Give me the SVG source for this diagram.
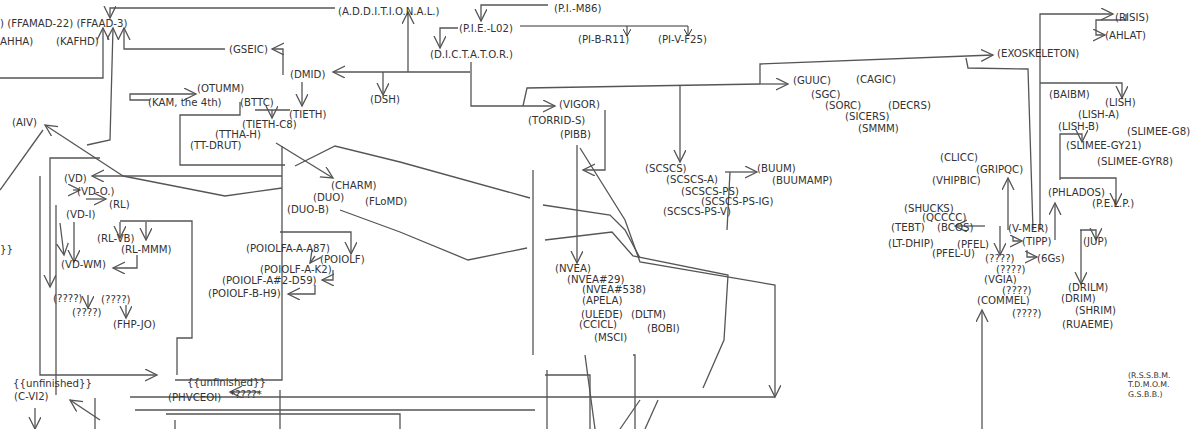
<svg xmlns="http://www.w3.org/2000/svg" width="1200" height="429" viewBox="0 0 1200 429">
<style>
text{font-family:"DejaVu Sans","Liberation Sans",sans-serif;font-size:10.2px;fill:#333}
.s{font-size:7.8px}
.c{fill:none;stroke:#555;stroke-width:1.3}
.a{fill:none;stroke:#555;stroke-width:1.3;marker-end:url(#m)}
.t{fill:none;stroke:#333;stroke-width:1;marker-end:url(#n)}
</style>
<defs>
<marker id="m" markerUnits="userSpaceOnUse" markerWidth="14" markerHeight="14" refX="12" refY="6" orient="auto"><path d="M0,0 L12,6 L0,12" fill="none" stroke="#555" stroke-width="1.3"/></marker>
<marker id="n" markerUnits="userSpaceOnUse" markerWidth="8" markerHeight="8" refX="7" refY="4" orient="auto"><path d="M0,0 L7,4 L0,8" fill="none" stroke="#333" stroke-width="1"/></marker>
</defs>
<rect width="1200" height="429" fill="#fff"/>
<g id="connectors">
<path class="a" d="M335,8 H110 V18"/>
<path class="a" d="M408,72 V12"/>
<path class="a" d="M470,72 H333"/>
<path class="a" d="M383,72 V95"/>
<path class="a" d="M283,75 V49 H272"/>
<path class="a" d="M225,49 H124 V28"/>
<path class="a" d="M302,82 V106"/>
<path class="a" d="M0,78 H103 V28"/>
<path class="a" d="M87,145 L110,140 L113,28"/>
<path class="a" d="M548,5 H481 V21"/>
<path class="a" d="M458,28 H440 V48"/>
<path class="t" d="M520,26 H627 V36"/>
<path class="t" d="M627,26 H688 V36"/>
<path class="a" d="M471,62 V106 H555"/>
<path class="c" d="M523,106 L527,88 L760,84"/>
<path class="a" d="M760,84 H788"/>
<path class="a" d="M760,84 V64 L993,55"/>
<path class="a" d="M680,86 V162"/>
<path class="c" d="M966,58 L968,68 L1028,69 L1033,230"/>
<path class="a" d="M1040,230 V14 H1113"/>
<path class="a" d="M1040,83 H1122 V98"/>
<path class="a" d="M1126,14 V20 H1096 V35 H1105"/>
<path class="a" d="M1008,230 V178"/>
<path class="a" d="M1060,180 V134 H1082 V142"/>
<path class="a" d="M1060,178 H1116 V205"/>
<path class="a" d="M1055,240 V203"/>
<path class="a" d="M1080,230 H1096 V240"/>
<path class="a" d="M1081,230 V284"/>
<path class="a" d="M982,429 V310"/>
<path class="a" d="M985,226 H955"/>
<path class="a" d="M1000,226 V255"/>
<path class="a" d="M1013,236 V241 H1022"/>
<path class="a" d="M1027,250 V257 H1037"/>
<path class="a" d="M605,110 V170 H583"/>
<path class="a" d="M577,145 V263"/>
<path class="c" d="M533,170 V355"/>
<path class="a" d="M725,172 H757"/>
<path class="c" d="M730,172 L727,230"/>
<path class="a" d="M150,100 H130 V94 H196"/>
<path class="c" d="M240,102 V115 H180 V165 H285"/>
<path class="c" d="M255,110 H290"/>
<path class="a" d="M272,110 V118"/>
<path class="a" d="M276,143 L333,178"/>
<path class="c" d="M282,146 V380 H175"/>
<path class="c" d="M295,166 L335,146 L400,162 L530,198"/>
<path class="c" d="M543,205 L610,215 L625,230 L640,258"/>
<path class="c" d="M340,210 L400,232 L468,260 L527,248"/>
<path class="c" d="M545,240 L612,232 L633,256 L728,275 L724,340 L703,388"/>
<path class="c" d="M0,190 L43,130"/>
<path class="a" d="M123,176 L45,125"/>
<path class="c" d="M123,176 L225,196 L282,188"/>
<path class="a" d="M282,176 H92"/>
<path class="a" d="M40,176 V375 H157"/>
<path class="c" d="M50,176 V158 H100"/>
<path class="a" d="M50,176 V287"/>
<path class="a" d="M73,190 H80"/>
<path class="a" d="M86,199 H106"/>
<path class="c" d="M56,205 V395"/>
<path class="a" d="M60,223 L64,255"/>
<path class="a" d="M74,222 V262"/>
<path class="a" d="M120,222 V238"/>
<path class="a" d="M146,222 V240"/>
<path class="c" d="M120,221 H192 V338 H177 V375"/>
<path class="a" d="M137,255 V268 H113"/>
<path class="a" d="M88,295 V308"/>
<path class="a" d="M126,305 V318"/>
<path class="a" d="M280,232 H351 V254"/>
<path class="a" d="M315,256 L310,263"/>
<path class="a" d="M333,270 V280 H322"/>
<path class="a" d="M315,285 V294 H288"/>
<path class="a" d="M580,148 L625,220 L640,262 L775,285 V397"/>
<path class="c" d="M130,397 H775"/>
<path class="c" d="M280,390 V429"/>
<path class="c" d="M95,398 V429"/>
<path class="c" d="M135,410 H535"/>
<path class="c" d="M166,414 H400 V429"/>
<path class="c" d="M175,420 V429"/>
<path class="c" d="M545,375 H590 V429"/>
<path class="c" d="M547,370 V429"/>
<path class="c" d="M633,355 H635 V429"/>
<path class="c" d="M640,400 L620,429"/>
<path class="c" d="M658,400 L645,429"/>
<path class="c" d="M585,355 L595,429"/>
<path class="a" d="M35,408 V429"/>
<path class="a" d="M260,392 H230"/>
<path class="a" d="M100,420 L70,400"/>
</g>
<g id="nodes">
<text x="0" y="27">) (FFAMAD-22) (FFAAD-3)</text>
<text x="0" y="45">AHHA)</text>
<text x="56" y="45">(KAFHD)</text>
<text x="338" y="15">(A.D.D.I.T.I.O.N.A.L.)</text>
<text x="554" y="12">(P.I.-M86)</text>
<text x="459" y="32">(P.I.E.-L02)</text>
<text x="578" y="43">(PI-B-R11)</text>
<text x="658" y="43">(PI-V-F25)</text>
<text x="430" y="58">(D.I.C.T.A.T.O.R.)</text>
<text x="229" y="53">(GSEIC)</text>
<text x="290" y="78">(DMID)</text>
<text x="370" y="103">(DSH)</text>
<text x="197" y="92">(OTUMM)</text>
<text x="148" y="106">(KAM, the 4th)</text>
<text x="240" y="106">(BTTC)</text>
<text x="289" y="118">(TIETH)</text>
<text x="242" y="128">(TIETH-C8)</text>
<text x="215" y="138">(TTHA-H)</text>
<text x="190" y="149">(TT-DRUT)</text>
<text x="12" y="126">(AIV)</text>
<text x="64" y="182">(VD)</text>
<text x="77" y="195">(VD-O.)</text>
<text x="109" y="208">(RL)</text>
<text x="66" y="218">(VD-I)</text>
<text x="97" y="242">(RL-VB)</text>
<text x="121" y="253">(RL-MMM)</text>
<text x="61" y="268">(VD-WM)</text>
<text x="0" y="253">}}</text>
<text x="53" y="302">(????)</text>
<text x="101" y="303">(????)</text>
<text x="72" y="316">(????)</text>
<text x="113" y="328">(FHP-JO)</text>
<text x="13" y="387">{{unfinished}}</text>
<text x="14" y="400">(C-VI2)</text>
<text x="168" y="401">(PHVCEOI)</text>
<text x="187" y="386">{{unfinished}}</text>
<text x="230" y="398">*????*</text>
<text x="331" y="189">(CHARM)</text>
<text x="313" y="201">(DUO)</text>
<text x="365" y="205">(FLoMD)</text>
<text x="287" y="213">(DUO-B)</text>
<text x="246" y="252">(POIOLFA-A-A87)</text>
<text x="320" y="263">(POIOLF)</text>
<text x="260" y="273">(POIOLF-A-K2)</text>
<text x="222" y="284">(POIOLF-A#2-D59)</text>
<text x="208" y="297">(POIOLF-B-H9)</text>
<text x="559" y="108">(VIGOR)</text>
<text x="528" y="124">(TORRID-S)</text>
<text x="560" y="138">(PIBB)</text>
<text x="645" y="172">(SCSCS)</text>
<text x="666" y="183">(SCSCS-A)</text>
<text x="681" y="195">(SCSCS-PS)</text>
<text x="701" y="205">(SCSCS-PS-IG)</text>
<text x="663" y="215">(SCSCS-PS-V)</text>
<text x="757" y="172">(BUUM)</text>
<text x="772" y="184">(BUUMAMP)</text>
<text x="555" y="272">(NVEA)</text>
<text x="567" y="283">(NVEA#29)</text>
<text x="582" y="293">(NVEA#538)</text>
<text x="582" y="304">(APELA)</text>
<text x="581" y="318">(ULEDE)</text>
<text x="631" y="318">(DLTM)</text>
<text x="579" y="328">(CCICL)</text>
<text x="647" y="332">(BOBI)</text>
<text x="594" y="341">(MSCI)</text>
<text x="793" y="84">(GUUC)</text>
<text x="856" y="83">(CAGIC)</text>
<text x="811" y="98">(SGC)</text>
<text x="825" y="109">(SORC)</text>
<text x="888" y="109">(DECRS)</text>
<text x="845" y="120">(SICERS)</text>
<text x="858" y="132">(SMMM)</text>
<text x="997" y="57">(EXOSKELETON)</text>
<text x="1115" y="21">(RISIS)</text>
<text x="1105" y="39">(AHLAT)</text>
<text x="1049" y="98">(BAIBM)</text>
<text x="1105" y="106">(LISH)</text>
<text x="1078" y="118">(LISH-A)</text>
<text x="1058" y="130">(LISH-B)</text>
<text x="1127" y="135">(SLIMEE-G8)</text>
<text x="1066" y="149">(SLIMEE-GY21)</text>
<text x="1097" y="165">(SLIMEE-GYR8)</text>
<text x="940" y="161">(CLICC)</text>
<text x="976" y="173">(GRIPQC)</text>
<text x="932" y="184">(VHIPBIC)</text>
<text x="1048" y="196">(PHLADOS)</text>
<text x="1092" y="207">(P.E.L.P.)</text>
<text x="904" y="212">(SHUCKS)</text>
<text x="922" y="221">(QCCCC)</text>
<text x="891" y="231">(TEBT)</text>
<text x="937" y="231">(BCOS)</text>
<text x="1008" y="232">(V-MER)</text>
<text x="1083" y="245">(JUP)</text>
<text x="1022" y="245">(TIPP)</text>
<text x="888" y="247">(LT-DHIP)</text>
<text x="957" y="248">(PFEL)</text>
<text x="932" y="257">(PFEL-U)</text>
<text x="985" y="262">(????)</text>
<text x="1037" y="262">(6Gs)</text>
<text x="996" y="273">(????)</text>
<text x="984" y="283">(VGIA)</text>
<text x="1002" y="294">(????)</text>
<text x="977" y="304">(COMMEL)</text>
<text x="1012" y="317">(????)</text>
<text x="1068" y="291">(DRILM)</text>
<text x="1061" y="302">(DRIM)</text>
<text x="1075" y="314">(SHRIM)</text>
<text x="1062" y="328">(RUAEME)</text>
<text class="s" x="1128" y="378">(R.S.S.B.M.</text>
<text class="s" x="1128" y="387">T.D.M.O.M.</text>
<text class="s" x="1128" y="397">G.S.B.B.)</text>
</g>
</svg>
